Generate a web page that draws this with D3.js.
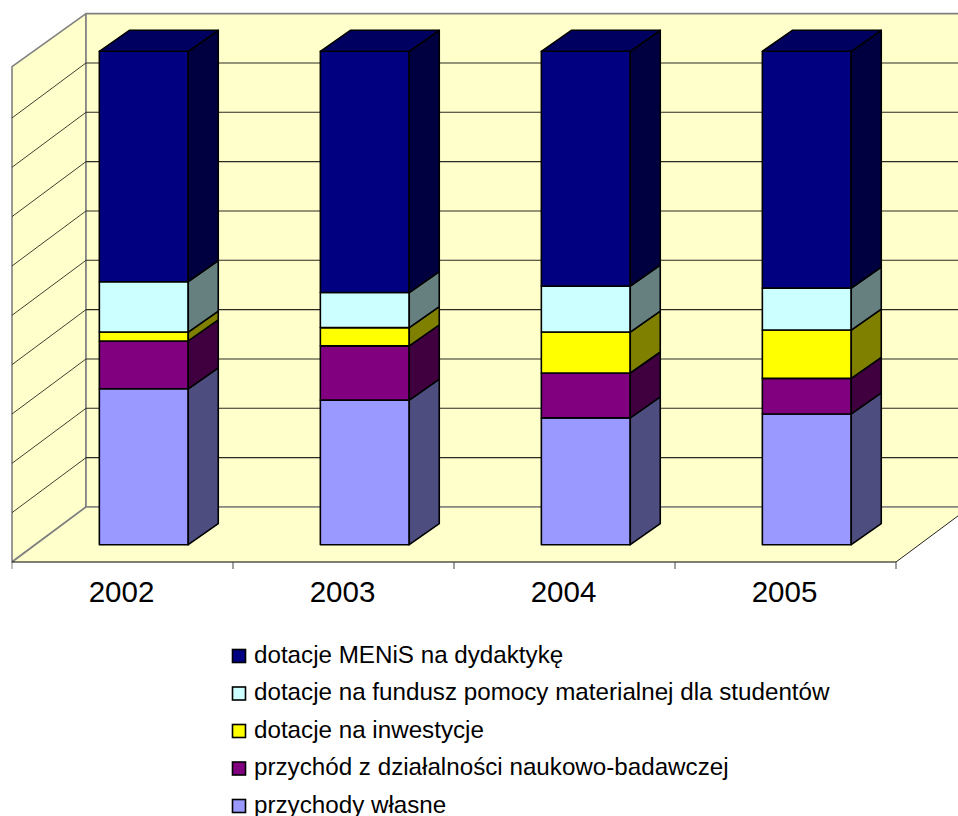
<!DOCTYPE html>
<html>
<head>
<meta charset="utf-8">
<script src="https://cdnjs.cloudflare.com/ajax/libs/d3/7.8.5/d3.min.js"></script>
<style>
html, body { margin: 0; padding: 0; background: #fff; overflow: hidden; }
svg { display: block; }
text { font-family: "Liberation Sans", Arial, sans-serif; fill: #000; }
</style>
</head>
<body>
<svg id="chart" width="958" height="816"></svg>
<script>
var years = ["2002", "2003", "2004", "2005"];

// share of income per year, percent
var wlasne = [31.6, 29.3, 25.7, 26.5];
var badawcze = [9.7, 11.0, 9.1, 7.2];
var inwestycje = [1.8, 3.7, 8.3, 9.8];
var pomoc = [10.2, 7.1, 9.3, 8.5];
var dydaktyka = [46.7, 48.9, 47.6, 48.0];

var seriesNames = ["przychody własne", "przychód z działalności naukowo-badawczej",
	"dotacje na inwestycje", "dotacje na fundusz pomocy materialnej dla studentów",
	"dotacje MENiS na dydaktykę"];
var seriesValues = [wlasne, badawcze, inwestycje, pomoc, dydaktyka];
var frontColors = ["#9999ff", "#800080", "#ffff00", "#ccffff", "#000080"];
var sideColors = ["#4d4d80", "#400040", "#808000", "#668080", "#000040"];
var topColor = "#000060";
var yTicks = [0, 10, 20, 30, 40, 50, 60, 70, 80, 90, 100];

var svg = d3.select("#chart");

// front edge of the floor
var x = d3.scaleBand().domain(years).range([12, 896]);
// y on the back wall
var y = d3.scaleLinear().domain([0, 100]).range([507, 13.6]);

// depth of the whole box and of one bar
var boxDx = 74, boxDy = -55;
var barDx = 30, barDy = -21;
var barW = 88.9;
var barBase = 37.7;   // bar front base sits this far under the back floor line

var wallFill = "#ffffcc", wallLine = "#808080";

var line = d3.line();

function poly(pts, fill, stroke, sw) {
	return svg.append("path")
		.attr("d", line(pts) + "Z")
		.attr("fill", fill)
		.attr("stroke", stroke)
		.attr("stroke-width", sw)
		.attr("stroke-linejoin", "round");
}

// walls and floor
var x0 = x.range()[0], x1 = x.range()[1];
var xb0 = x0 + boxDx, xb1 = x1 + boxDx;
poly([[x0, y(100) + 53], [xb0, y(100)], [xb0, y(0)], [x0, y(0) - boxDy]], wallFill, wallLine, 1.6);
poly([[xb0, y(100)], [xb1, y(100)], [xb1, y(0)], [xb0, y(0)]], wallFill, wallLine, 1.6);
poly([[x0, y(0) - boxDy], [xb0, y(0)], [xb1, y(0)], [x1, y(0) - boxDy]], wallFill, "none", 0);

// floor edges
svg.append("line").attr("x1", x0).attr("y1", y(0) - boxDy).attr("x2", xb0).attr("y2", y(0))
	.attr("stroke", wallLine).attr("stroke-width", 1.6);
svg.append("line").attr("x1", xb0).attr("y1", y(0)).attr("x2", xb1).attr("y2", y(0))
	.attr("stroke", wallLine).attr("stroke-width", 1.6);
svg.append("line").attr("x1", x1).attr("y1", y(0) - boxDy).attr("x2", xb1).attr("y2", y(0))
	.attr("stroke", "#222").attr("stroke-width", 1);

// gridlines
yTicks.filter(function(d) { return d > 0 && d < 100; }).forEach(function(d) {
	svg.append("line").attr("x1", xb0).attr("x2", xb1).attr("y1", y(d)).attr("y2", y(d))
		.attr("stroke", "#2a2a20").attr("stroke-width", 1.1);
	svg.append("line").attr("x1", x0).attr("y1", y(d) - boxDy).attr("x2", xb0).attr("y2", y(d))
		.attr("stroke", "#2a2a20").attr("stroke-width", 0.9);
});

// stacked bars
var stackData = years.map(function(yr, i) {
	var row = { year: yr };
	seriesValues.forEach(function(vals, s) { row[s] = vals[i]; });
	return row;
});
var stacked = d3.stack().keys(seriesValues.map(function(v, s) { return s; }))(stackData);

years.forEach(function(yr, i) {
	var left = x(yr) + x.bandwidth() / 2 + 21.3 - barW / 2;
	var right = left + barW;
	stacked.forEach(function(layer, s) {
		var yBot = y(layer[i][0]) + barBase;
		var yTop = y(layer[i][1]) + barBase;
		poly([[left, yTop], [right, yTop], [right, yBot], [left, yBot]], frontColors[s], "#000", 1.6);
		poly([[right, yTop], [right + barDx, yTop + barDy], [right + barDx, yBot + barDy], [right, yBot]], sideColors[s], "#000", 1.6);
		if (s === stacked.length - 1) {
			poly([[left, yTop], [left + barDx, yTop + barDy], [right + barDx, yTop + barDy], [right, yTop]], topColor, "#000", 1.6);
		}
	});
});

// category axis
var axisY = y(0) - boxDy;
var axis = svg.append("g")
	.attr("transform", "translate(-1," + axisY + ")")
	.call(d3.axisBottom(x).tickSize(0).tickPadding(19));
axis.select(".domain").remove();
axis.selectAll("text").attr("font-size", 29.5).style("font-family", '"Liberation Sans", Arial, sans-serif');

svg.append("line").attr("x1", x0).attr("x2", x1).attr("y1", axisY).attr("y2", axisY)
	.attr("stroke", "#000").attr("stroke-width", 1);
d3.range(years.length + 1).forEach(function(i) {
	var tx = x0 + i * x.step();
	svg.append("line").attr("x1", tx).attr("x2", tx).attr("y1", axisY).attr("y2", axisY + 7)
		.attr("stroke", i === 0 ? "#808080" : "#444").attr("stroke-width", 1);
});

// legend, top row is the last series
var legendY = d3.scalePoint().domain(d3.range(5)).range([656, 806]);
d3.range(5).forEach(function(r) {
	var s = 4 - r;
	svg.append("rect")
		.attr("x", 232.5).attr("y", legendY(r) - 6.5)
		.attr("width", 13).attr("height", 13)
		.attr("fill", frontColors[s]).attr("stroke", "#000").attr("stroke-width", 1.6);
	svg.append("text")
		.attr("x", 254).attr("y", legendY(r) + 6.5)
		.attr("font-size", 24.2)
		.text(seriesNames[s]);
});
</script>
</body>
</html>
